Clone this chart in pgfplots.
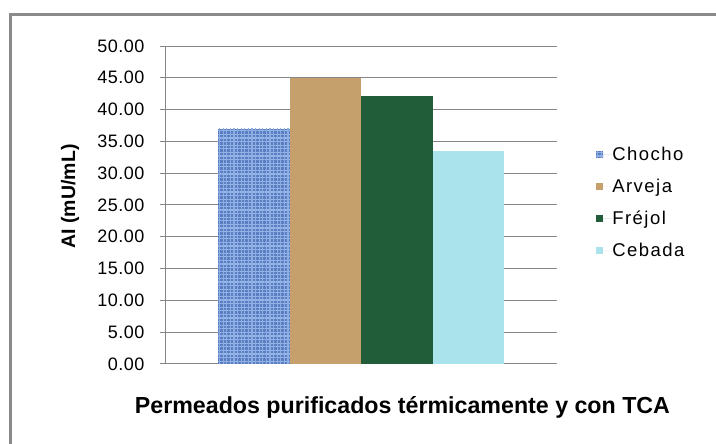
\documentclass[border=0pt]{standalone}
\usepackage{fontspec}
\setmainfont{Liberation Sans}
\newfontfamily\legendfont[LetterSpace=8]{Liberation Sans}
\newfontfamily\tickfont[LetterSpace=3]{Liberation Sans}
\usepackage{pgfplots}
\pgfplotsset{compat=1.18}
\usetikzlibrary{patterns.meta}

\definecolor{chocho}{HTML}{5A7EC2}
\definecolor{chocholight}{HTML}{9AB7EA}
\definecolor{arveja}{HTML}{C6A06C}
\definecolor{frejol}{HTML}{215D39}
\definecolor{cebada}{HTML}{ABE3EC}
\definecolor{gridgray}{HTML}{868686}
\definecolor{framegray}{HTML}{8A8A8A}

\begin{document}
\begin{tikzpicture}[x=1pt,y=1pt]
\path[use as bounding box, fill=white] (0,0) rectangle (716,444);
% chart frame (left and top edges)
\draw[framegray, line width=3pt] (10.5,-2) -- (10.5,429.5) -- (718,429.5);
\begin{axis}[
  at={(165.7pt,80pt)}, anchor=south west,
  scale only axis, width=391pt, height=318pt,
  xmin=-1.238, xmax=4.231, ymin=0, ymax=50,
  axis lines*=left,
  axis line style={draw=gridgray, line width=1pt},
  xtick=\empty,
  ytick={0,5,...,50},
  ymajorgrids,
  grid style={draw=gridgray, line width=1pt},
  tick align=outside,
  major tick length=5.7pt,
  ytick style={draw=gridgray, line width=1pt},
  /pgf/number format/assume math mode=true,
  /pgf/number format/.cd, fixed, fixed zerofill, precision=2, /pgfplots/.cd,
  yticklabel style={font=\tickfont\fontsize{18}{21}\selectfont, anchor=east, xshift=-12pt},
  ylabel={AI (mU/mL)},
  ylabel style={font=\bfseries\fontsize{19.5}{22}\selectfont, at={(rel axis cs:-0.2448,0.527)}, anchor=center, rotate=0},
  xlabel={Permeados purificados térmicamente y con TCA},
  xlabel style={font=\bfseries\fontsize{23.2}{27}\selectfont, at={(rel axis cs:0.6056,-0.135)}, anchor=center},
  legend style={at={(1.093,0.508)}, anchor=west, draw=none, fill=none,
    font=\legendfont\fontsize{18.5}{21}\selectfont, row sep=15pt,
    nodes={inner sep=1pt}},
  legend cell align=left,
  legend image code/.code={\fill[#1] (0pt,-3.5pt) rectangle (7pt,3.5pt);
    \path (0pt,0pt) -- (15pt,0pt);},
]
% woven look for the first bar: two sets of light threads over a blue base
\addplot[ybar, bar width=1, bar shift=0pt, fill=chocho, draw=none,
  postaction={pattern={Lines[angle=0,distance=3.6pt,line width=1.3pt]}, pattern color=chocholight},
  postaction={pattern={Lines[angle=90,distance=3.6pt,line width=1.1pt]}, pattern color=chocholight!80!chocho}]
  coordinates {(0,37.0)};
\addlegendentry{Chocho}
\addplot[ybar, bar width=1, bar shift=0pt, fill=arveja, draw=none] coordinates {(1,45.0)};
\addlegendentry{Arveja}
\addplot[ybar, bar width=1, bar shift=0pt, fill=frejol, draw=none] coordinates {(2,42.2)};
\addlegendentry{Fréjol}
\addplot[ybar, bar width=1, bar shift=0pt, fill=cebada, draw=none] coordinates {(3,33.5)};
\addlegendentry{Cebada}
\end{axis}
\end{tikzpicture}
\end{document}
